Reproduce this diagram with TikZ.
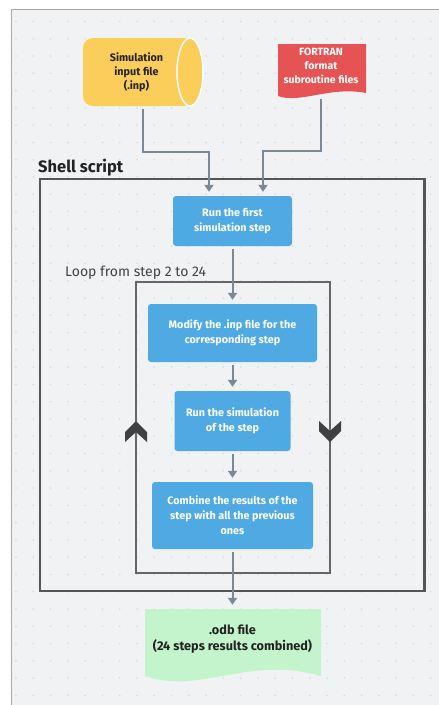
\documentclass[tikz,border=0pt]{standalone}
\usepackage{fontspec}
\setmainfont{Fira Sans}
\usetikzlibrary{arrows.meta,calc}

\definecolor{panel}{HTML}{F1F2F4}
\definecolor{paneledge}{HTML}{A6A6A6}
\definecolor{dotc}{HTML}{D9DADD}
\definecolor{stepblue}{HTML}{4FA9E3}
\definecolor{inpyellow}{HTML}{FBCD5A}
\definecolor{fortred}{HTML}{E55354}
\definecolor{odbgreen}{HTML}{C4F4CB}
\definecolor{wire}{HTML}{7A8996}
\definecolor{frame}{HTML}{555555}
\definecolor{chev}{HTML}{404040}
\definecolor{ink}{HTML}{222222}

\tikzset{
  stepbox/.style={fill=stepblue, rounded corners=3pt, text=white, align=center,
    font=\fontsize{10.8}{14.8}\selectfont\bfseries, inner sep=0pt},
  docnode/.style={align=center, inner sep=0pt},
  arr/.style={draw=wire, line width=2pt, -{Triangle[width=9pt,length=7pt]},
    shorten >=4pt, shorten <=3pt},
  outerframe/.style={draw=frame, line width=2.2pt},
  loopframe/.style={draw=frame!90, line width=1.6pt},
  chevron/.style={fill=chev}
}

\begin{document}
\begin{tikzpicture}[x=1pt,y=-1pt]
\useasboundingbox (0,0) rectangle (439,705);
\fill[white] (0,0) rectangle (439,705);

% canvas panel with dot grid
\fill[panel] (11,9) rectangle (439,705);
\draw[paneledge, line width=1pt] (11,705) -- (11,9) -- (439,9);
\foreach \i in {0,...,24}
  \foreach \j in {0,...,39}
    \fill[dotc] (16+\i*17.28, 21.5+\j*17.28) circle (0.9);

% input file: horizontal cylinder
\fill[inpyellow, rounded corners=10pt] (83,38) rectangle (170,106);
\fill[inpyellow] (140,38) rectangle (190,106);
\filldraw[fill=inpyellow, draw=white, line width=1.5pt] (190,72) ellipse [x radius=13, y radius=34];
\node[docnode, text=ink, minimum width=107pt, minimum height=68pt,
  font=\fontsize{10.8}{14}\selectfont\bfseries] (inp) at (136.5,72)
  {Simulation\\input file\\(.inp)};

% FORTRAN files: document shape
\fill[fortred] (278,44) -- (366,44) -- (366,93)
  .. controls (330,86) and (300,104) .. (278,96) -- cycle;
\node[docnode, text=white, minimum width=88pt, minimum height=60pt,
  font=\fontsize{10.5}{14}\selectfont\bfseries] (fort) at (321,66)
  {FORTRAN\\format\\subroutine files};

% shell script frame
\draw[outerframe] (40,179) rectangle (424.5,591);
\node[anchor=base west, inner sep=0pt, text=ink,
  font=\fontsize{16.5}{19}\selectfont\bfseries] (shelltitle) at (38,172) {Shell script};

% loop frame
\draw[loopframe] (136,282) rectangle (330,573);
\node[anchor=base west, inner sep=0pt, text=ink!85,
  font=\fontsize{14}{17}\selectfont] (looptitle) at (65,276) {Loop from step 2 to 24};

% loop direction chevrons
\fill[chevron] (136,421) -- (147,432) -- (147,442) -- (136,432) -- (125,442) -- (125,432) -- cycle;
\fill[chevron] (330,442) -- (341,431) -- (341,421) -- (330,431) -- (319,421) -- (319,431) -- cycle;

% process steps
\node[stepbox, minimum width=119pt, minimum height=50pt] (run1) at (232.5,221)
  {Run the first\\simulation step};
\node[stepbox, minimum width=169pt, minimum height=58pt] (modify) at (232.5,333)
  {Modify the .inp file for the\\corresponding step};
\node[stepbox, minimum width=116pt, minimum height=60pt] (runsim) at (232.5,421)
  {Run the simulation\\of the step};
\node[stepbox, minimum width=161pt, minimum height=67pt] (combine) at (232.5,515.5)
  {Combine the results of the\\step with all the previous\\ones};

% output file: document shape
\fill[odbgreen] (145,609) -- (321,609) -- (321,676)
  .. controls (250,655) and (200,695) .. (145,676) -- cycle;
\node[docnode, text=ink, minimum width=176pt, minimum height=60pt,
  font=\fontsize{12.7}{16}\selectfont\bfseries] (odb) at (232.5,639)
  {.odb file\\(24 steps results combined)};

% connectors
\coordinate (inturnL) at (0,152);
\coordinate (inturnR) at (0,151);
\coordinate (run1inL) at ($(run1.north)+(-23.5,0)$);
\coordinate (run1inR) at ($(run1.north)+(30.5,0)$);
\draw[arr] ([xshift=6.5pt]inp.south) |- (run1inL |- inturnL) -- (run1inL);
\draw[arr] (fort.south) |- (run1inR |- inturnR) -- (run1inR);
\draw[arr] (run1) -- (modify);
\draw[arr] (modify) -- (runsim);
\draw[arr] (runsim) -- (combine);
\draw[arr] (combine) -- (odb);
\end{tikzpicture}
\end{document}
